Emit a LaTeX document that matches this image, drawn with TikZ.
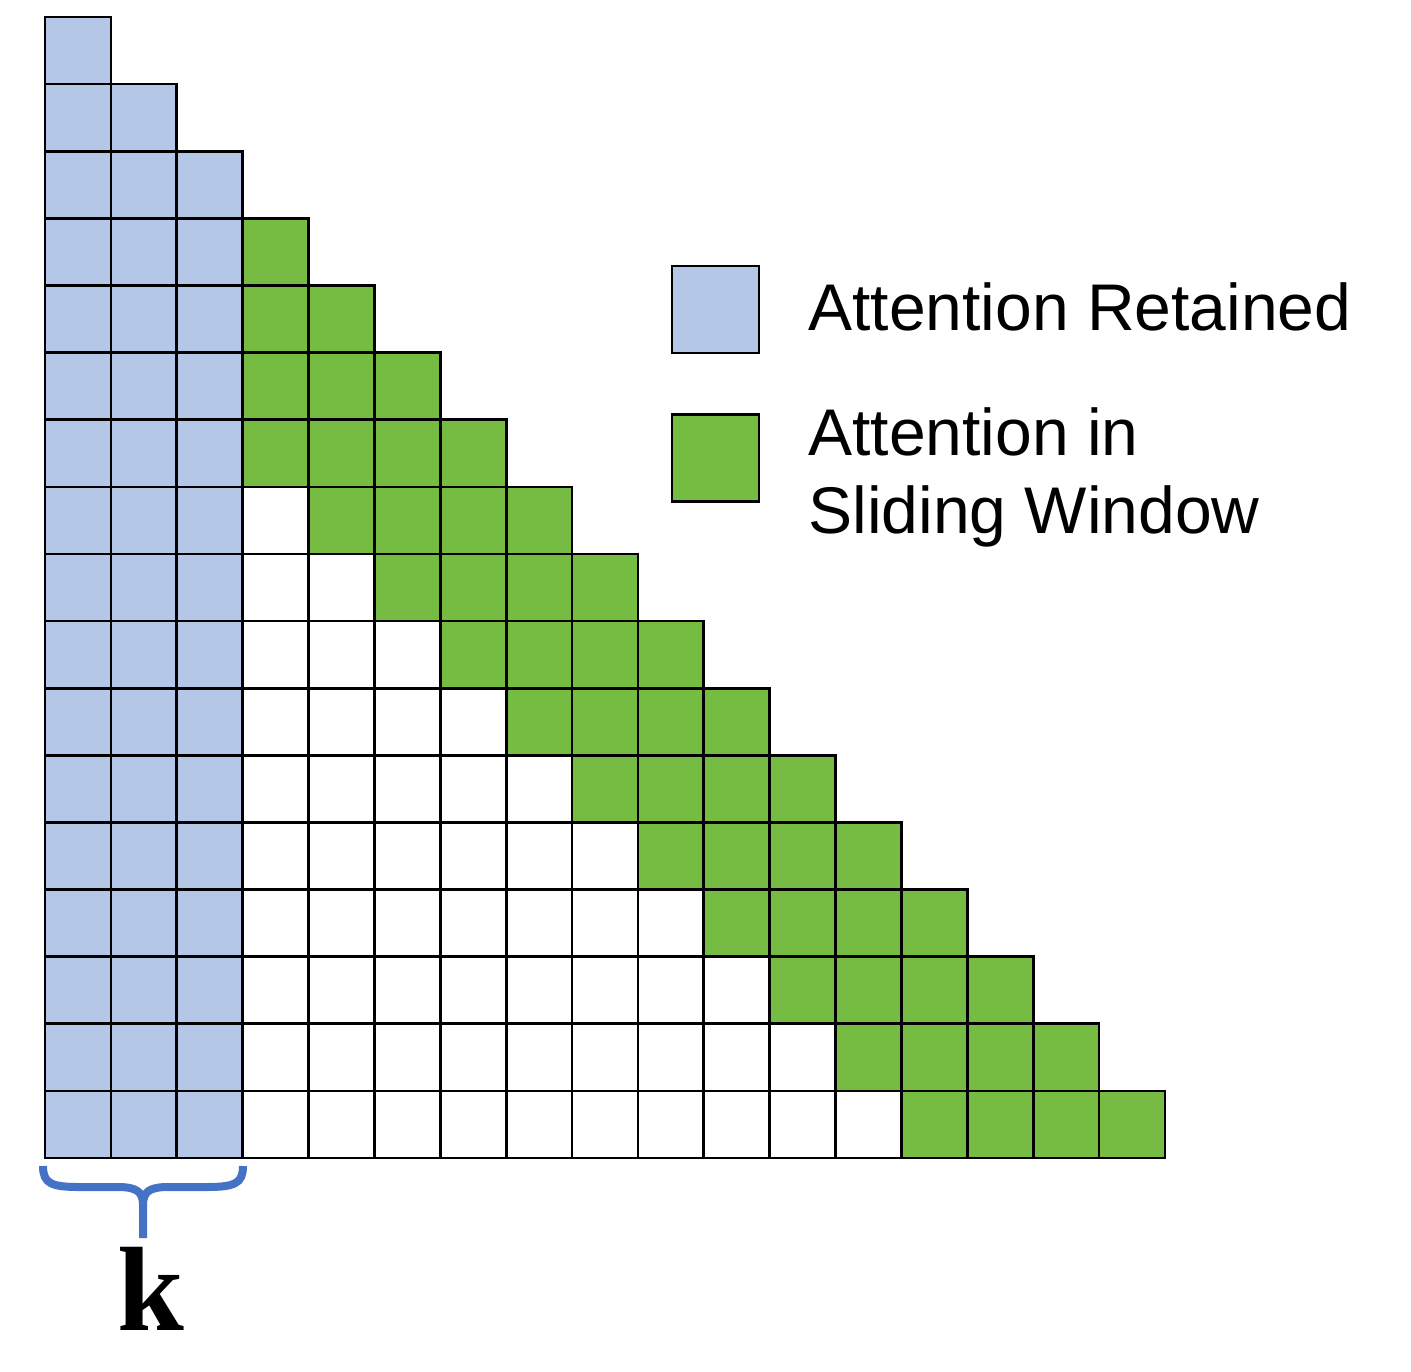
\documentclass[tikz,border=0pt]{standalone}
\usepackage{fontspec}
\setmainfont{Liberation Sans}
\newfontfamily\kserif{Liberation Serif}
\definecolor{retblue}{HTML}{B4C7E7}
\definecolor{swgreen}{HTML}{76BB42}
\definecolor{bracecol}{HTML}{4472C4}
\begin{document}
\begin{tikzpicture}[x=0.5pt,y=-0.5pt,
  cellbox/.style={draw=black,line width=1.35pt},
  legbox/.style={draw=black,line width=1.35pt,minimum size=43.5pt,inner sep=0pt},
  legtext/.style={font=\fontsize{33}{39}\selectfont,inner sep=0pt,align=left},
  bracestyle/.style={draw=bracecol,line width=4pt}]
\useasboundingbox (0,0) rectangle (1411,1371);
\def\cw{65.88}
\def\ch{67.12}
\foreach \i in {0,...,16}{
  \foreach \j in {0,...,\i}{
    \pgfmathtruncatemacro\c{ifthenelse(\j<3,1,ifthenelse(\j>=\i-3,2,0))}
    \ifcase\c
      \def\fc{white}
    \or
      \def\fc{retblue}
    \else
      \def\fc{swgreen}
    \fi
    \path[cellbox,fill=\fc] ({45+\j*\cw},{17+\i*\ch}) rectangle ++(\cw,\ch);
  }
}
% brace
\draw[bracestyle] (43,1166) .. controls (43,1184) and (52,1187) .. (80,1187)
  -- (118,1187) .. controls (137,1187) and (143,1192) .. (143,1205) -- (143,1238);
\draw[bracestyle] (243,1166) .. controls (243,1184) and (234,1187) .. (206,1187)
  -- (168,1187) .. controls (149,1187) and (143,1192) .. (143,1205);
\node[font=\kserif\bfseries\fontsize{60}{60}\selectfont,inner sep=0pt,anchor=base] (k) at (151,1330) {k};
% legend
\node[legbox,fill=retblue] (lb1) at (715.5,309.5) {};
\node[legbox,fill=swgreen] (lb2) at (715.5,458) {};
\node[legtext,anchor=base west] (lt1) at (808,330) {Attention Retained};
\node[legtext,anchor=base west] (lt2) at (808,533) {Attention in\\Sliding Window};
\end{tikzpicture}
\end{document}
